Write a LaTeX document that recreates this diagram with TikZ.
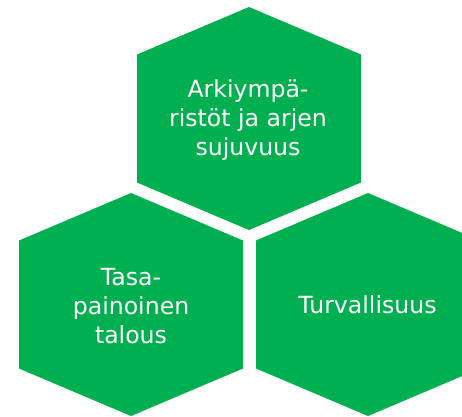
\documentclass[tikz,border=0pt]{standalone}
\usepackage{fontspec}
\setmainfont{DejaVu Sans}
\definecolor{hexgreen}{RGB}{0,176,80}
\tikzset{
  hexfill/.style={fill=hexgreen},
  hexlabel/.style={text=white, align=center, inner sep=0pt,
    font=\fontsize{23.6}{28.8}\selectfont}
}
\newcommand\hexagonat[1]{%
  \fill[hexfill] (#1) ++(0,-111.5) -- ++(112,47.5) -- ++(0,128) -- ++(-112,47.5)
    -- ++(-112,-47.5) -- ++(0,-128) -- cycle;}
\begin{document}
\begin{tikzpicture}[x=1pt,y=-1pt]
  \useasboundingbox (0,0) rectangle (462,416);
  \clip (0,0) rectangle (462,416);
  \coordinate (ctop) at (249,118.5);
  \coordinate (cleft) at (131,304.5);
  \coordinate (cright) at (368,304.5);
  \hexagonat{ctop}
  \hexagonat{cleft}
  \hexagonat{cright}
  \node[hexlabel] (ltop) at (248,120) {Arkiympä-\\ristöt ja arjen\\sujuvuus};
  \node[hexlabel] (lleft) at (131,306) {Tasa-\\painoinen\\talous};
  \node[hexlabel] (lright) at (367.5,305) {Turvallisuus};
\end{tikzpicture}
\end{document}
